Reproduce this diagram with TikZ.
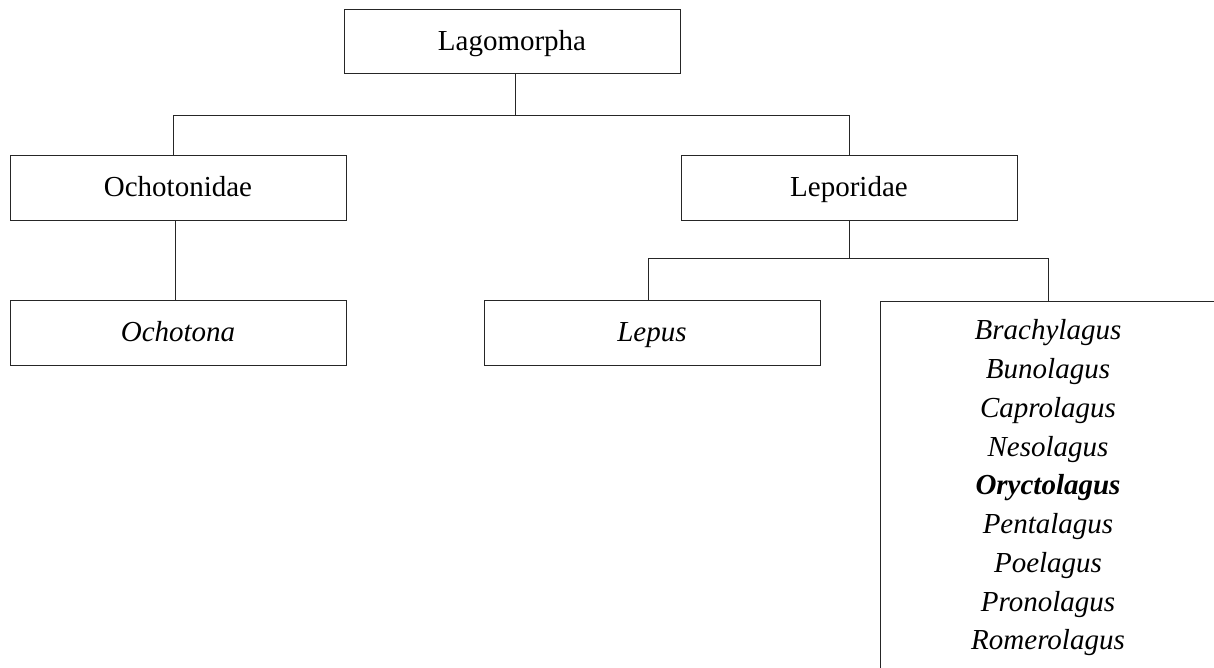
\documentclass[tikz,border=0pt]{standalone}
\usepackage{fontspec}
\setmainfont{Liberation Serif}
\begin{document}
\begin{tikzpicture}[x=1pt,y=-1pt,
  every node/.style={inner sep=0pt,outer sep=0pt},
  taxbox/.style={draw=black!85,line width=1pt,minimum width=336pt,minimum height=65pt,
    text height=20pt,text depth=3pt,font=\fontsize{29}{35}\selectfont},
  link/.style={draw=black!85,line width=1pt},
  genus/.style={font=\fontsize{29}{38.75}\selectfont\itshape,align=center}]
\useasboundingbox (0,0) rectangle (1214,668);
\node[taxbox,minimum height=64pt] (lago) at (512,42) {Lagomorpha};
\node[taxbox] (ocho) at (178,188.5) {Ochotonidae};
\node[taxbox] (lepo) at (849,188.5) {Leporidae};
\node[taxbox] (ochot) at (178,332.5) {\itshape Ochotona};
\node[taxbox] (lepus) at (652,332.5) {\itshape Lepus};
\node[genus] (gen) at (1048,488) {Brachylagus\\Bunolagus\\Caprolagus\\Nesolagus\\\textbf{Oryctolagus}\\Pentalagus\\Poelagus\\Pronolagus\\Romerolagus};
% open box of the genera
\coordinate (gbl) at (880,668);
\coordinate (gtl) at (880,301);
\coordinate (gtr) at (1214,301);
\coordinate (gtop) at (1048,301);
\draw[link] (gbl) -- (gtl) -- (gtr);
% connectors
\coordinate (b1) at (515,116);
\draw[link] (lago.south -| b1) -- (b1);
\draw[link] (ocho.north -| 173,0) -- (173,116) -- (849,116) -- (lepo.north);
\draw[link] (ocho.south -| 175,0) -- (ochot.north -| 175,0);
\coordinate (b2) at (849,258);
\draw[link] (lepo.south) -- (b2);
\draw[link] (lepus.north -| 648,0) -- (648,258) -- (1048,258) -- (gtop);
\end{tikzpicture}
\end{document}
